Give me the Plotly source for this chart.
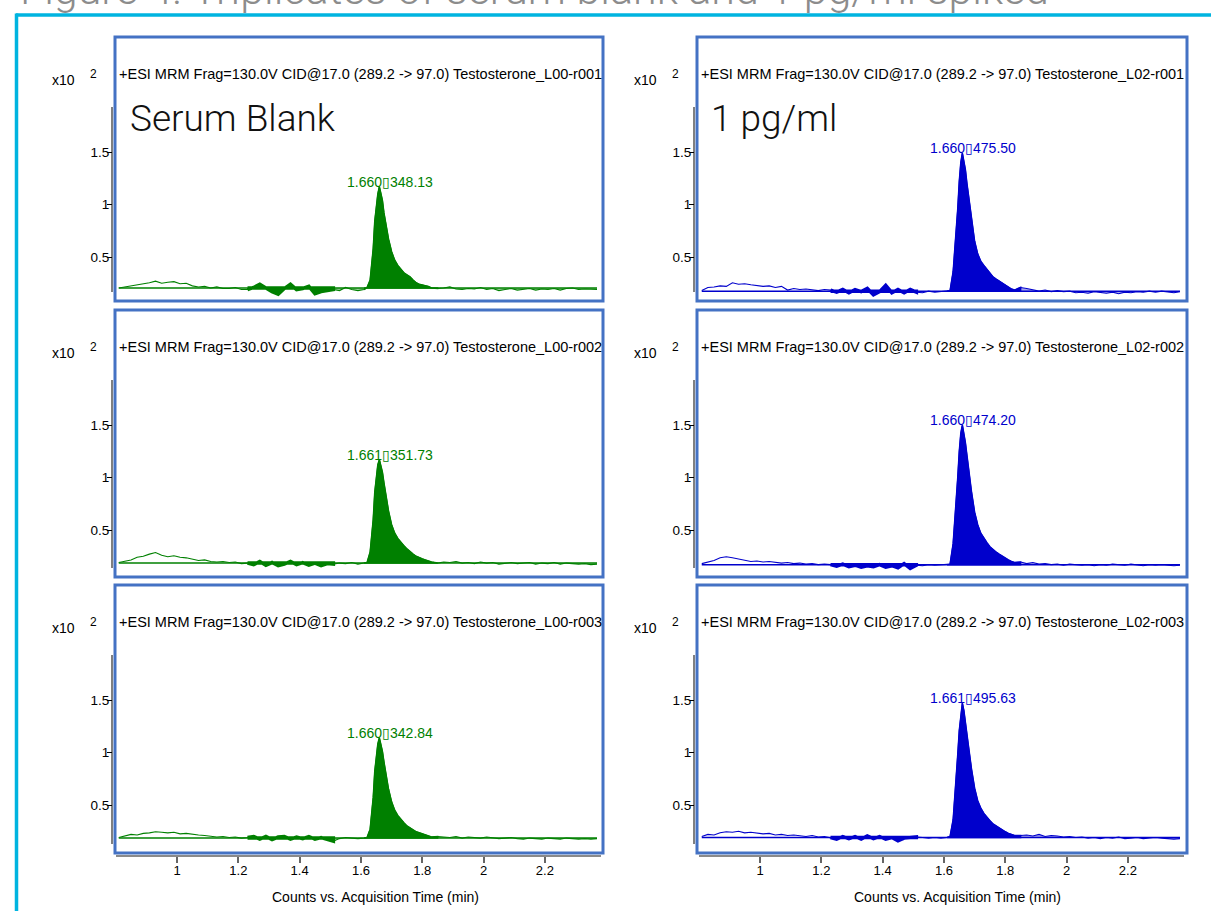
import plotly.graph_objects as go

W, H = 1211, 911

# ---------------- data ----------------
time_min = [0.81, 0.83, 0.85, 0.87, 0.89, 0.91, 0.93, 0.95, 0.97, 0.99,
            1.01, 1.03, 1.05, 1.07, 1.09, 1.11, 1.13, 1.15, 1.17, 1.19,
            1.21, 1.23, 1.25, 1.27, 1.29, 1.31, 1.33, 1.35, 1.37, 1.39,
            1.41, 1.43, 1.45, 1.47, 1.49, 1.51, 1.53, 1.55, 1.57, 1.59,
            1.61,
            1.62, 1.63, 1.64, 1.645, 1.65, 1.655, 1.66, 1.665, 1.67, 1.675,
            1.68, 1.69, 1.70, 1.71, 1.72, 1.73, 1.74, 1.75, 1.76, 1.77,
            1.78, 1.79, 1.80, 1.81, 1.82, 1.83,
            1.85, 1.87, 1.89, 1.91, 1.93, 1.95, 1.97, 1.99, 2.01, 2.03,
            2.05, 2.07, 2.09, 2.11, 2.13, 2.15, 2.17, 2.19, 2.21, 2.23,
            2.25, 2.27, 2.29, 2.31, 2.33, 2.35, 2.37]

# counts (x10^2)
serum_r001 = [0.205, 0.215, 0.225, 0.235, 0.24, 0.255, 0.27, 0.25, 0.26, 0.265,
              0.245, 0.25, 0.225, 0.215, 0.22, 0.205, 0.215, 0.2, 0.2, 0.21,
              0.19, 0.19, 0.21, 0.24, 0.2, 0.17, 0.145, 0.2, 0.24, 0.19,
              0.2, 0.22, 0.15, 0.17, 0.18, 0.19, 0.18, 0.21, 0.19, 0.18,
              0.19,
              0.21, 0.28, 0.58, 0.84, 0.98, 1.10, 1.17, 1.10, 1.04, 0.92,
              0.84, 0.67, 0.55, 0.47, 0.42, 0.38, 0.35, 0.33, 0.31, 0.28,
              0.255, 0.24, 0.235, 0.23, 0.22, 0.205,
              0.2, 0.205, 0.215, 0.195, 0.19, 0.2, 0.195, 0.21, 0.19, 0.2,
              0.18, 0.19, 0.2, 0.185, 0.195, 0.2, 0.185, 0.195, 0.19, 0.2,
              0.185, 0.2, 0.205, 0.19, 0.195, 0.19, 0.19]
serum_r002 = [0.19, 0.2, 0.215, 0.24, 0.25, 0.27, 0.285, 0.26, 0.245, 0.255,
              0.24, 0.235, 0.22, 0.21, 0.215, 0.2, 0.195, 0.2, 0.19, 0.195,
              0.18, 0.185, 0.17, 0.2, 0.165, 0.19, 0.16, 0.175, 0.2, 0.17,
              0.19, 0.165, 0.185, 0.16, 0.18, 0.175, 0.185, 0.18, 0.19, 0.175,
              0.185,
              0.19, 0.29, 0.60, 0.86, 1.01, 1.12, 1.17, 1.12, 1.05, 0.95,
              0.85, 0.68, 0.55, 0.47, 0.42, 0.38, 0.35, 0.32, 0.29, 0.27,
              0.25, 0.235, 0.225, 0.215, 0.205, 0.195,
              0.185, 0.195, 0.19, 0.2, 0.185, 0.19, 0.18, 0.195, 0.185, 0.19,
              0.175, 0.185, 0.19, 0.18, 0.185, 0.19, 0.175, 0.185, 0.18, 0.19,
              0.175, 0.185, 0.18, 0.175, 0.18, 0.17, 0.175]
serum_r003 = [0.19, 0.205, 0.22, 0.215, 0.23, 0.235, 0.245, 0.24, 0.235, 0.24,
              0.225, 0.23, 0.22, 0.215, 0.21, 0.2, 0.195, 0.2, 0.19, 0.195,
              0.185, 0.19, 0.2, 0.175, 0.2, 0.17, 0.195, 0.2, 0.175, 0.195,
              0.18, 0.2, 0.175, 0.19, 0.17, 0.155, 0.18, 0.19, 0.185, 0.18,
              0.185,
              0.19, 0.27, 0.57, 0.82, 0.97, 1.08, 1.14, 1.08, 1.01, 0.91,
              0.82, 0.65, 0.53, 0.45, 0.40, 0.36, 0.33, 0.30, 0.28, 0.26,
              0.245, 0.235, 0.225, 0.215, 0.205, 0.195,
              0.2, 0.195, 0.19, 0.2, 0.185, 0.195, 0.19, 0.185, 0.195, 0.19,
              0.18, 0.185, 0.19, 0.18, 0.175, 0.185, 0.18, 0.175, 0.185, 0.18,
              0.175, 0.185, 0.18, 0.175, 0.18, 0.175, 0.18]
spiked_r001 = [0.18, 0.21, 0.215, 0.225, 0.22, 0.255, 0.24, 0.245, 0.235, 0.23,
               0.22, 0.225, 0.21, 0.22, 0.185, 0.2, 0.19, 0.195, 0.185, 0.18,
               0.19, 0.185, 0.165, 0.19, 0.16, 0.19, 0.17, 0.2, 0.14, 0.17,
               0.23, 0.16, 0.19, 0.16, 0.19, 0.165, 0.16, 0.175, 0.165, 0.17,
               0.175,
               0.18, 0.36, 0.72, 0.96, 1.22, 1.40, 1.49, 1.42, 1.33, 1.20,
               1.08, 0.84, 0.65, 0.53, 0.46, 0.42, 0.38, 0.34, 0.31, 0.29,
               0.27, 0.25, 0.23, 0.21, 0.195, 0.185,
               0.21, 0.2, 0.19, 0.175, 0.185, 0.17, 0.18, 0.17, 0.175, 0.16,
               0.165, 0.155, 0.17, 0.16, 0.155, 0.165, 0.15, 0.165, 0.16, 0.17,
               0.165, 0.175, 0.165, 0.175, 0.17, 0.16, 0.17]
spiked_r002 = [0.18, 0.195, 0.21, 0.235, 0.245, 0.235, 0.225, 0.21, 0.2, 0.205,
               0.195, 0.2, 0.19, 0.185, 0.19, 0.18, 0.185, 0.175, 0.18, 0.17,
               0.175, 0.17, 0.155, 0.175, 0.15, 0.165, 0.145, 0.16, 0.15, 0.17,
               0.145, 0.16, 0.14, 0.18, 0.135, 0.165, 0.16, 0.17, 0.165, 0.17,
               0.17,
               0.175, 0.37, 0.74, 1.00, 1.25, 1.42, 1.50, 1.43, 1.33, 1.21,
               1.09, 0.86, 0.67, 0.55, 0.47, 0.42, 0.38, 0.34, 0.31, 0.29,
               0.27, 0.25, 0.23, 0.215, 0.2, 0.19,
               0.195, 0.18, 0.19, 0.175, 0.18, 0.17, 0.175, 0.165, 0.175, 0.17,
               0.165, 0.17, 0.16, 0.17, 0.165, 0.175, 0.17, 0.165, 0.175, 0.17,
               0.16, 0.17, 0.165, 0.17, 0.165, 0.16, 0.165]
spiked_r003 = [0.2, 0.22, 0.215, 0.235, 0.245, 0.24, 0.25, 0.235, 0.24, 0.23,
               0.225, 0.23, 0.215, 0.22, 0.21, 0.215, 0.205, 0.2, 0.21, 0.195,
               0.2, 0.19, 0.175, 0.2, 0.18, 0.2, 0.175, 0.205, 0.18, 0.2,
               0.175, 0.19, 0.16, 0.185, 0.19, 0.195, 0.19, 0.185, 0.19, 0.185,
               0.19,
               0.2, 0.36, 0.72, 0.98, 1.21, 1.38, 1.47, 1.40, 1.30, 1.18,
               1.06, 0.84, 0.66, 0.54, 0.47, 0.42, 0.38, 0.35, 0.32, 0.30,
               0.28, 0.26, 0.245, 0.23, 0.22, 0.21,
               0.21, 0.215, 0.205, 0.22, 0.2, 0.21, 0.205, 0.195, 0.2, 0.19,
               0.195, 0.185, 0.19, 0.18, 0.19, 0.185, 0.195, 0.18, 0.185, 0.19,
               0.18, 0.185, 0.19, 0.185, 0.18, 0.175, 0.18]

serum_baseline = [0.205, 0.186, 0.186]
spiked_baseline = [0.175, 0.168, 0.19]

serum_rt = ["1.660", "1.661", "1.660"]
serum_area = ["348.13", "351.73", "342.84"]
spiked_rt = ["1.660", "1.660", "1.661"]
spiked_area = ["475.50", "474.20", "495.63"]

serum_files = ["Testosterone_L00-r001", "Testosterone_L00-r002", "Testosterone_L00-r003"]
spiked_files = ["Testosterone_L02-r001", "Testosterone_L02-r002", "Testosterone_L02-r003"]
scan_label = "+ESI MRM Frag=130.0V CID@17.0 (289.2 -> 97.0) "
sample_names = ["Serum Blank", "1 pg/ml"]

noise_window = (1.23, 1.51)
peak_window = (1.61, 1.85)
light_windows = [(1.51, 1.61), (1.85, 2.37)]

x_ticks = [1, 1.2, 1.4, 1.6, 1.8, 2, 2.2]
x_tick_labels = ["1", "1.2", "1.4", "1.6", "1.8", "2", "2.2"]
y_ticks = [0.5, 1, 1.5]
y_tick_labels = ["0.5", "1", "1.5"]
x_title = "Counts vs. Acquisition Time (min)"
fig_title = "Figure 4. Triplicates of serum blank and 1 pg/ml spiked"

# ---------------- layout helpers ----------------
def fx(px):
    return px / W

def fy(py):
    return 1 - py / H

COLS = [dict(box=(115, 603), dom=(116, 601), yax=112, x10=63.5, sup=93, head=117, big=128, xt=375.5,
             color="#008000", light="rgba(0,128,0,0.35)"),
        dict(box=(697, 1187), dom=(699, 1184), yax=694, x10=645.5, sup=675, head=699, big=709, xt=957.5,
             color="#0000CC", light="rgba(0,0,204,0.35)")]
ROWS = [(37, 301), (310, 577), (585, 853)]
X_RANGE = [0.801, 2.383]
PXU = 105.0      # pixels per unit of y
OFF15 = 115.0    # pixel offset of the 1.5 tick below the box top

series = [[serum_r001, serum_r002, serum_r003], [spiked_r001, spiked_r002, spiked_r003]]
baselines = [serum_baseline, spiked_baseline]
rts = [serum_rt, spiked_rt]
areas = [serum_area, spiked_area]
files = [serum_files, spiked_files]

ARIAL = "Liberation Sans, Arial, sans-serif"
TOFU = "\u25af"

fig = go.Figure()
annotations = []
shapes = []
layout = {}


def polygon(vals, base, a, b):
    seg = [(t, v) for t, v in zip(time_min, vals) if a <= t <= b]
    xs_ = [s[0] for s in seg] + [seg[-1][0], seg[0][0]]
    ys_ = [s[1] for s in seg] + [base, base]
    return xs_, ys_


for c, col in enumerate(COLS):
    for r, (top, bot) in enumerate(ROWS):
        k = r * 2 + c + 1
        xs = "x" if k == 1 else f"x{k}"
        ys = "y" if k == 1 else f"y{k}"
        xkey = "xaxis" if k == 1 else f"xaxis{k}"
        ykey = "yaxis" if k == 1 else f"yaxis{k}"
        vals = series[c][r]
        base = baselines[c][r]
        t0, t1 = time_min[0], time_min[-1]

        def yv(py):
            return 1.5 - (py - top - OFF15) / PXU

        # light fills
        for (a, b) in light_windows:
            px_, py_ = polygon(vals, base, a, b)
            fig.add_trace(go.Scatter(x=px_, y=py_, xaxis=xs, yaxis=ys, mode="lines",
                                     fill="toself", fillcolor=col["light"],
                                     line=dict(width=0), hoverinfo="skip", showlegend=False))
        # integrated noise band
        px_, py_ = polygon(vals, base, *noise_window)
        fig.add_trace(go.Scatter(x=px_, y=py_, xaxis=xs, yaxis=ys, mode="lines",
                                 fill="toself", fillcolor=col["color"],
                                 line=dict(width=3.5, color=col["color"]),
                                 hoverinfo="skip", showlegend=False))
        # integrated peak
        px_, py_ = polygon(vals, base, *peak_window)
        fig.add_trace(go.Scatter(x=px_, y=py_, xaxis=xs, yaxis=ys, mode="lines",
                                 fill="toself", fillcolor=col["color"],
                                 line=dict(width=1.5, color=col["color"]),
                                 hoverinfo="skip", showlegend=False))
        # baseline
        fig.add_trace(go.Scatter(x=[t0, t1], y=[base, base], xaxis=xs, yaxis=ys, mode="lines",
                                 line=dict(width=1.5, color=col["color"]), showlegend=False))
        # chromatogram
        fig.add_trace(go.Scatter(x=time_min, y=vals, xaxis=xs, yaxis=ys, mode="lines",
                                 line=dict(width=1.1, color=col["color"]), showlegend=False))

        bottom_row = (r == len(ROWS) - 1)
        xa = dict(domain=[fx(col["dom"][0]), fx(col["dom"][1])], range=X_RANGE,
                  showgrid=False, zeroline=False, fixedrange=True)
        if bottom_row:
            xa.update(anchor="free", position=fy(856), showline=True, linecolor="#8a8a8a",
                      linewidth=2, ticks="outside", ticklen=6, tickwidth=1.5, tickcolor="#666666",
                      tickvals=x_ticks, ticktext=x_tick_labels, ticklabelstandoff=-4,
                      tickfont=dict(family=ARIAL, size=13, color="#000000"))
        else:
            xa.update(anchor=ys, visible=False)
        layout[xkey] = xa
        layout[ykey] = dict(domain=[fy(bot), fy(top)], range=[yv(bot), yv(top)],
                            anchor="free", position=fx(col["yax"]), side="left",
                            showgrid=False, zeroline=False, showline=False,
                            ticks="outside", ticklen=5, tickwidth=1, tickcolor="#000000",
                            tickvals=y_ticks, ticktext=y_tick_labels, ticklabelstandoff=-5,
                            tickfont=dict(family=ARIAL, size=13.5, color="#000000"),
                            fixedrange=True)

        # y axis line
        shapes.append(dict(type="line", xref="paper", yref=ys,
                           x0=fx(col["yax"]), x1=fx(col["yax"]),
                           y0=yv(bot - 9), y1=yv(top + 70),
                           line=dict(color="#000000", width=1)))
        # panel box
        shapes.append(dict(type="rect", xref="paper", yref="paper",
                           x0=fx(col["box"][0]), x1=fx(col["box"][1]),
                           y0=fy(bot), y1=fy(top),
                           line=dict(color="#4472C4", width=3)))

        # header text
        annotations.append(dict(xref="paper", yref="paper", x=fx(col["head"]), y=fy(top + 37),
                                xanchor="left", yanchor="middle", showarrow=False,
                                text=scan_label + files[c][r],
                                font=dict(family=ARIAL, size=14.5, color="#000000")))
        annotations.append(dict(xref="paper", yref="paper", x=fx(col["x10"]), y=fy(top + 43),
                                xanchor="center", yanchor="middle", showarrow=False,
                                text="x10", font=dict(family=ARIAL, size=14, color="#000000")))
        annotations.append(dict(xref="paper", yref="paper", x=fx(col["sup"]), y=fy(top + 37),
                                xanchor="center", yanchor="middle", showarrow=False,
                                text="2", font=dict(family=ARIAL, size=12, color="#000000")))
        # peak label
        imax = max(range(len(vals)), key=lambda i: vals[i])
        annotations.append(dict(xref=xs, yref=ys, x=time_min[imax] + 0.036, y=vals[imax] + 0.045,
                                xanchor="center", yanchor="middle", showarrow=False,
                                text=rts[c][r] + TOFU + areas[c][r],
                                font=dict(family=ARIAL, size=14, color=col["color"])))
        if r == 0:
            annotations.append(dict(xref="paper", yref="paper", x=fx(col["big"]), y=fy(top + 81),
                                    xanchor="left", yanchor="middle", showarrow=False,
                                    text=sample_names[c],
                                    font=dict(family="Roboto", size=37, color="#111111", weight=300)))
        if bottom_row:
            annotations.append(dict(xref="paper", yref="paper", x=fx(col["xt"]), y=fy(897),
                                    xanchor="center", yanchor="middle", showarrow=False,
                                    text=x_title, font=dict(family=ARIAL, size=14, color="#000000")))

# cyan frame
shapes.append(dict(type="line", xref="paper", yref="paper", x0=fx(16), x1=1.0, y0=fy(15), y1=fy(15),
                   line=dict(color="#00B4E0", width=3.5)))
shapes.append(dict(type="line", xref="paper", yref="paper", x0=fx(16.5), x1=fx(16.5), y0=fy(13.5), y1=0,
                   line=dict(color="#00B4E0", width=3.5)))

# figure title (clipped at the top edge as in the source page)
annotations.append(dict(xref="paper", yref="paper", x=fx(18), y=fy(16), xanchor="left", yanchor="bottom",
                        showarrow=False, text=fig_title,
                        font=dict(family="Roboto", size=43, color="#8c8c8c", weight=300)))

fig.update_layout(width=W, height=H, margin=dict(l=0, r=0, t=0, b=0),
                  paper_bgcolor="#ffffff", plot_bgcolor="#ffffff",
                  showlegend=False, annotations=annotations, shapes=shapes, **layout)

fig.write_html("out.html", config={"displayModeBar": False},
               post_script="document.body.style.margin='0';document.body.style.overflow='hidden';")
